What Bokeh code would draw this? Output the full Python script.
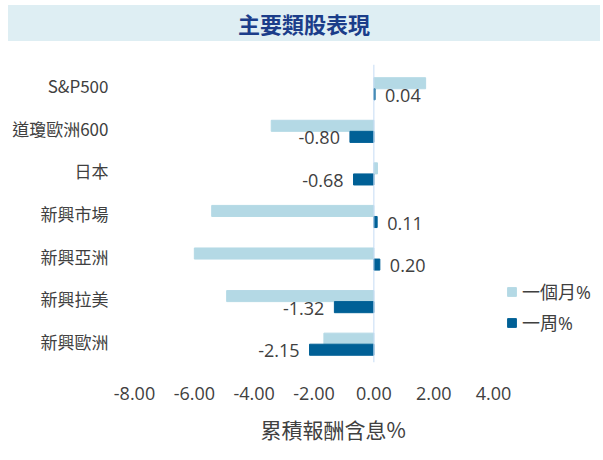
from bokeh.plotting import figure
from bokeh.models import (Div, Legend, LegendItem, Span, FactorRange, Range1d, Title,
                          ColumnDataSource, FixedTicker, CustomJSTickFormatter)
from bokeh.transform import dodge
from bokeh.layouts import column
from bokeh.core.properties import value
from bokeh.embed import file_html
from bokeh.resources import INLINE

# ---- data ----
categories = ["S&P500", "道瓊歐洲600", "日本", "新興市場", "新興亞洲", "新興拉美", "新興歐洲"]
month_pct = [1.73, -3.43, 0.12, -5.42, -6.00, -4.92, -1.67]
week_pct = [0.04, -0.80, -0.68, 0.11, 0.20, -1.32, -2.15]
x_ticks = [-8, -6, -4, -2, 0, 2, 4]
title_text = "主要類股表現"
x_title = "累積報酬含息%"
series_names = ["一個月%", "一周%"]

LIGHT = "#b4d9e5"
DARK = "#006096"
TXT = "#404040"
LATIN = "'Open Sans', 'Noto Sans CJK TC'"
CJK = "'Noto Sans CJK TC'"

# bar centres relative to the category centre (category units)
OFF_M, OFF_W, BAR_H = 0.06, -0.20, 0.26

src = ColumnDataSource(dict(
    cat=categories,
    month=month_pct,
    week=week_pct,
    lbl=[f"{v:.2f}" for v in week_pct],
    align=["left" if v >= 0 else "right" for v in week_pct],
    xoff=[10 if v >= 0 else -10 for v in week_pct],
))

banner = Div(text=title_text, width=592, height=36,
             styles={"background-color": "#deeef3", "text-align": "center",
                     "font-size": "22px", "font-weight": "bold", "color": "#1b3d8a",
                     "line-height": "36px", "font-family": CJK})

p = figure(y_range=FactorRange(factors=list(reversed(categories)), range_padding=0),
           x_range=Range1d(-8, 7.34),
           frame_width=459, frame_height=298,
           min_border_left=131, min_border_right=2, min_border_top=18, min_border_bottom=0,
           output_backend="svg", toolbar_location=None)
p.outline_line_color = None
p.background_fill_color = "white"
p.border_fill_color = "white"

r_month = p.hbar(y=dodge("cat", OFF_M, range=p.y_range), right="month", left=0, height=BAR_H,
                 color=LIGHT, source=src)
r_week = p.hbar(y=dodge("cat", OFF_W, range=p.y_range), right="week", left=0, height=BAR_H,
                color=DARK, source=src)

p.add_layout(Span(location=0, dimension="height", line_color="#c6dcf4", line_width=1))

p.text(x="week", y=dodge("cat", OFF_W, range=p.y_range), text="lbl", source=src,
       text_align="align", x_offset="xoff", y_offset=1, text_baseline="middle",
       text_font=value(LATIN), text_font_size="18px", text_color=TXT)

p.xgrid.visible = False
p.ygrid.visible = False

xa = p.xaxis[0]
xa.ticker = FixedTicker(ticks=x_ticks)
xa.formatter = CustomJSTickFormatter(code="return tick.toFixed(2);")
xa.axis_line_color = None
xa.major_tick_line_color = None
xa.minor_tick_line_color = None
xa.major_label_text_font = LATIN
xa.major_label_text_font_size = "18px"
xa.major_label_text_color = TXT
xa.major_label_standoff = 18

ya = p.yaxis[0]
ya.axis_line_color = None
ya.major_tick_line_color = None
ya.minor_tick_line_color = None
ya.major_label_text_font = CJK
ya.major_label_text_font_size = "17px"
ya.major_label_text_color = TXT
ya.major_label_standoff = 20

# x-axis title, placed below the axis
p.add_layout(Title(text=x_title, align="left", offset=126, standoff=19,
                   text_font=CJK, text_font_size="21px", text_font_style="normal",
                   text_color=TXT), "below")

legend = Legend(items=[LegendItem(label=series_names[0], renderers=[r_month]),
                       LegendItem(label=series_names[1], renderers=[r_week])],
                location=(372, 27), orientation="vertical",
                glyph_width=11, glyph_height=11, label_height=22, spacing=5,
                label_standoff=5, padding=0, margin=0,
                border_line_color=None, background_fill_alpha=0,
                label_text_font=LATIN, label_text_font_size="18px",
                label_text_color=TXT)
p.add_layout(legend)

layout = column(banner, p, spacing=0, margin=(0, 0, 0, 3))
open("out.html", "w").write(file_html(layout, INLINE))
